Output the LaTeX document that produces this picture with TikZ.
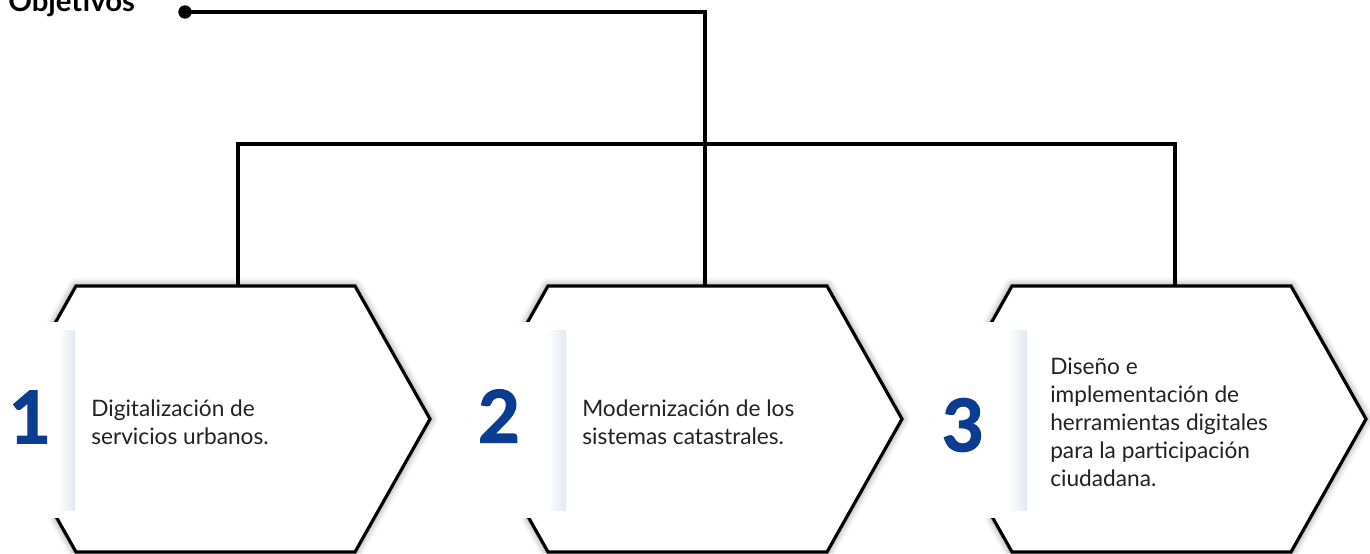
\documentclass[tikz,border=0pt]{standalone}
\usepackage{fontspec}
\setmainfont{Lato}
\usetikzlibrary{shadows.blur}
\definecolor{numblue}{RGB}{10,61,145}
\definecolor{txtgray}{RGB}{34,34,34}
\definecolor{panelblue}{RGB}{226,232,242}

\begin{document}
\begin{tikzpicture}[x=0.75pt,y=0.75pt,yscale=-1,xscale=1,
  hexline/.style={line width=2.4pt,fill=white,blur shadow={shadow xshift=0pt,shadow yshift=0pt,shadow blur radius=6pt,shadow opacity=55}},
  treeline/.style={line width=2.4pt},
  panelshade/.style={left color=white,right color=panelblue,draw=none},
  numtext/.style={inner sep=0pt,text=numblue,font=\fontsize{54}{54}\selectfont\bfseries\addfontfeature{FakeBold=2}},
  bodytext/.style={anchor=west,align=left,inner sep=0pt,text=txtgray,font=\fontsize{17}{21}\selectfont}
]
\useasboundingbox (0,0) rectangle (1370,553);

%Shape: Hexagon [id:hex1]
\draw [hexline] (76,286) -- (355,286) -- (430,419) -- (355,552) -- (76,552) -- (1,419) -- cycle ;
%Shape: Hexagon [id:hex2]
\draw [hexline] (548,286) -- (827,286) -- (902,419) -- (827,552) -- (548,552) -- (473,419) -- cycle ;
%Shape: Hexagon [id:hex3]
\draw [hexline] (1012,286) -- (1291,286) -- (1366,419) -- (1291,552) -- (1012,552) -- (937,419) -- cycle ;

%Shape: Rectangle [id:panel1]
\fill [white] (0,322) rectangle (75,518) ;
\shade [panelshade] (58,330) rectangle (75,510) ;
%Shape: Rectangle [id:panel2]
\fill [white] (466,322) rectangle (566,518) ;
\shade [panelshade] (546,330) rectangle (566,510) ;
%Shape: Rectangle [id:panel3]
\fill [white] (930,322) rectangle (1027,518) ;
\shade [panelshade] (1008,330) rectangle (1027,510) ;

%Points of the tree
\node [circle,fill=black,inner sep=0pt,minimum size=10] (dot) at (185,12) {};
\coordinate (turn) at (705,12) ;
\coordinate (h1top) at (238,286) ;
\coordinate (h2top) at (705,286) ;
\coordinate (h3top) at (1175,286) ;
\coordinate (j1) at (238,144) ;
\coordinate (j3) at (1175,144) ;

%Straight Lines [id:tree]
\draw [treeline] (dot.center) -- (turn) -- (h2top) ;
\draw [treeline] (h1top) -- (j1) -- (j3) -- (h3top) ;

% Text Node
\draw (8,12) node [anchor=base west][inner sep=0pt][font=\fontsize{22}{22}\selectfont\bfseries] (obj) {Objetivos};
% Text Node
\node [numtext] (n1) at (30,417) {1};
\node [numtext] (n2) at (499,416) {2};
\node [numtext] (n3) at (963,425) {3};
% Text Node
\node [bodytext] (t1) at (91,422) {Digitalización de\\servicios urbanos.};
\node [bodytext] (t2) at (582,422) {Modernización de los\\sistemas catastrales.};
\node [bodytext] (t3) at (1050,422) {Diseño e\\implementación de\\herramientas digitales\\para la participación\\ciudadana.};

\end{tikzpicture}
\end{document}
